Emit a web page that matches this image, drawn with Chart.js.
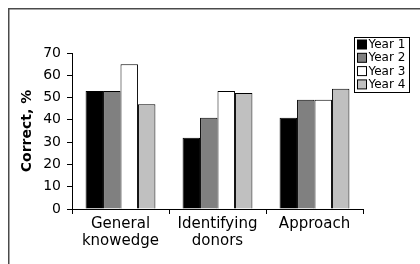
<!DOCTYPE html>
<html>
<head>
<meta charset="utf-8">
<script src="https://cdn.jsdelivr.net/npm/chart.js@4"></script>
<style>
  html, body { margin: 0; padding: 0; background: #fff; }
  #wrap { position: relative; width: 420px; height: 264px; }
</style>
</head>
<body>
<div id="wrap"><canvas id="surveyChart" width="420" height="264"></canvas></div>
<script>
const categories = [['General', 'knowedge'], ['Identifying', 'donors'], 'Approach'];
const seriesNames = ['Year 1', 'Year 2', 'Year 3', 'Year 4'];
const year1 = [53, 32, 41];
const year2 = [53, 41, 49];
const year3 = [65, 53, 49];
const year4 = [47, 52, 54];
const yTicks = [0, 10, 20, 30, 40, 50, 60, 70];
const fills = ['#000000', '#808080', '#ffffff', '#c0c0c0'];

const FONT = 'DejaVu Sans';

// frame (top + left line) and the boxed legend
const framePlugin = {
    id: 'frame',
    beforeDraw(chart) {
        const ctx = chart.ctx;
        ctx.save();
        ctx.strokeStyle = '#4a4a4a';
        ctx.lineWidth = 1.5;
        ctx.beginPath();
        ctx.moveTo(8.75, 264);
        ctx.lineTo(8.75, 8.75);
        ctx.lineTo(420, 8.75);
        ctx.stroke();
        ctx.restore();
    },
    afterDraw(chart) {
        const ctx = chart.ctx;
        const x = 354.5, y = 37.5, w = 55, h = 55;
        ctx.save();
        ctx.fillStyle = '#fff';
        ctx.fillRect(x, y, w, h);
        ctx.strokeStyle = '#000';
        ctx.lineWidth = 1;
        ctx.strokeRect(x, y, w, h);
        ctx.font = '12px ' + FONT;
        ctx.textBaseline = 'middle';
        chart.data.datasets.forEach((ds, i) => {
            const cy = y + 7 + i * 13.3;
            ctx.fillStyle = ds.backgroundColor;
            ctx.fillRect(x + 3, cy - 4.5, 9, 9);
            ctx.strokeStyle = '#000';
            ctx.strokeRect(x + 3, cy - 4.5, 9, 9);
            ctx.fillStyle = '#000';
            ctx.fillText(ds.label, x + 14, cy + 0.5);
        });
        ctx.restore();
    }
};

const seriesData = [year1, year2, year3, year4];

new Chart(document.getElementById('surveyChart').getContext('2d'), {
    type: 'bar',
    data: {
        labels: categories,
        datasets: seriesNames.map((name, i) => ({
            label: name,
            data: seriesData[i],
            backgroundColor: fills[i],
            borderColor: '#000',
            borderWidth: 1,
            categoryPercentage: 0.72,
            barPercentage: 1
        }))
    },
    options: {
        responsive: false,
        animation: false,
        events: [],
        layout: { padding: { left: 0, top: 53, right: 57, bottom: 0 } },
        plugins: {
            legend: { display: false },
            tooltip: { enabled: false }
        },
        scales: {
            x: {
                grid: {
                    offset: true,
                    drawOnChartArea: false,
                    tickLength: 5,
                    color: '#000'
                },
                border: { color: '#000', width: 1 },
                ticks: {
                    color: '#000',
                    font: { family: FONT, size: 15, lineHeight: 1.13 },
                    padding: 2,
                    maxRotation: 0
                },
                afterFit(scale) { scale.height = 55; }
            },
            y: {
                min: 0,
                max: 70,
                afterBuildTicks(scale) { scale.ticks = yTicks.map(v => ({ value: v })); },
                grid: {
                    drawOnChartArea: false,
                    tickLength: 5,
                    color: '#000'
                },
                border: { color: '#000', width: 1 },
                ticks: {
                    color: '#000',
                    font: { family: FONT, size: 14 },
                    padding: 6
                },
                title: {
                    display: true,
                    text: 'Correct, %',
                    color: '#000',
                    font: { family: FONT, size: 14, weight: 'bold' },
                    padding: { top: 19, bottom: 0 }
                },
                afterFit(scale) { scale.width = 72; }
            }
        }
    },
    plugins: [framePlugin]
});
</script>
</body>
</html>
